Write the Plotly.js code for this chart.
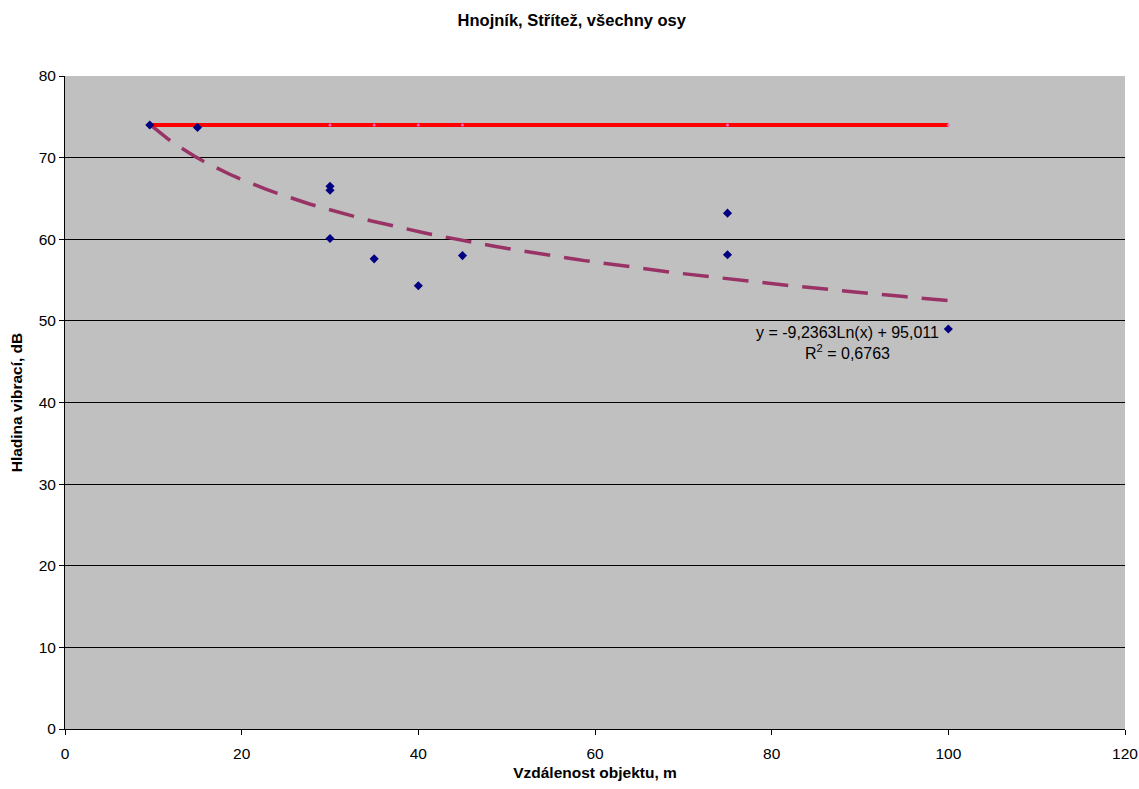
<!DOCTYPE html>
<html>
<head>
<meta charset="utf-8">
<script src="https://cdn.plot.ly/plotly-3.0.1.min.js"></script>
<style>html,body{margin:0;padding:0;background:#fff;}#chart{width:1139px;height:789px;}</style>
</head>
<body>
<div id="chart"></div>
<script>
// Measured data: distance (m) and vibration level (dB)
const distances = [9.6, 15, 30, 30, 30, 35, 40, 45, 75, 75, 100];
const levels    = [74.0, 73.7, 66.5, 66.0, 60.1, 57.6, 54.3, 58.0, 63.2, 58.1, 49.0];
// Limit line series
const limitX = [9.6, 15, 30, 35, 40, 45, 75, 100];
const limitY = [74, 74, 74, 74, 74, 74, 74, 74];
const equationText = "y = -9,2363Ln(x) + 95,011<br>R<sup>2</sup> = 0,6763";
const xTicks = [0, 20, 40, 60, 80, 100, 120];
const yTicks = [0, 10, 20, 30, 40, 50, 60, 70, 80];

// Logarithmic trendline fitted from the measured data (as the spreadsheet did)
const lx = distances.map(Math.log);
const n = lx.length;
const mx = lx.reduce((a,b)=>a+b,0)/n;
const my = levels.reduce((a,b)=>a+b,0)/n;
let sxy=0, sxx=0;
for (let i=0;i<n;i++){ sxy += (lx[i]-mx)*(levels[i]-my); sxx += (lx[i]-mx)**2; }
const slope = sxy/sxx, icpt = my - slope*mx;
const xmin = Math.min(...distances), xmax = Math.max(...distances);
const trendX = [], trendY = [];
for (let k=0;k<=90;k++){ const x = xmin + (xmax-xmin)*k/90; trendX.push(x); trendY.push(icpt + slope*Math.log(x)); }

const font = {family: "Liberation Sans, Arial, sans-serif", color: "#000"};
const traces = [
  {x: trendX, y: trendY, mode: "lines", line: {color: "#993366", width: 3.5, dash: "26px,14px"}, hoverinfo: "skip"},
  {x: limitX, y: limitY, mode: "lines+markers", line: {color: "#FF0000", width: 4}, marker: {color: "#FF66CC", size: 3}},
  {x: distances, y: levels, mode: "markers", marker: {symbol: "diamond", color: "#000080", size: 7}}
];
const layout = {
  width: 1139, height: 789,
  margin: {l: 65, r: 14, t: 76, b: 60},
  paper_bgcolor: "#ffffff", plot_bgcolor: "#C0C0C0",
  showlegend: false,
  font: Object.assign({size: 15}, font),
  title: {text: "<b>Hnojník, Střítež, všechny osy</b>", x: 0.502, xanchor: "center", y: 0.975, yanchor: "middle", font: Object.assign({size: 16.5}, font)},
  xaxis: {range: [0, 120], tickvals: xTicks, ticks: "outside", ticklen: 5, tickcolor: "#000", ticklabelstandoff: 5,
          showgrid: false, zeroline: false, showline: true, linecolor: "#000", linewidth: 1,
          tickfont: Object.assign({size: 15.5}, font),
          title: {text: "<b>Vzdálenost objektu, m</b>", standoff: 6, font: Object.assign({size: 15.5}, font)}},
  yaxis: {range: [0, 80], tickvals: yTicks, ticks: "outside", ticklen: 5, tickcolor: "#000",
          showgrid: true, gridcolor: "#000", gridwidth: 1, zeroline: false, showline: true, linecolor: "#000", linewidth: 1,
          tickfont: Object.assign({size: 15.5}, font),
          title: {text: "<b>Hladina vibrací, dB</b>", standoff: 12, font: Object.assign({size: 15.5}, font)}},
  annotations: [{text: equationText, xref: "paper", yref: "paper", x: 0.738, y: 0.591, xanchor: "center", yanchor: "middle",
                 showarrow: false, align: "center", font: Object.assign({size: 16}, font)}]
};
Plotly.newPlot("chart", traces, layout, {displayModeBar: false, staticPlot: true});
</script>
</body>
</html>
